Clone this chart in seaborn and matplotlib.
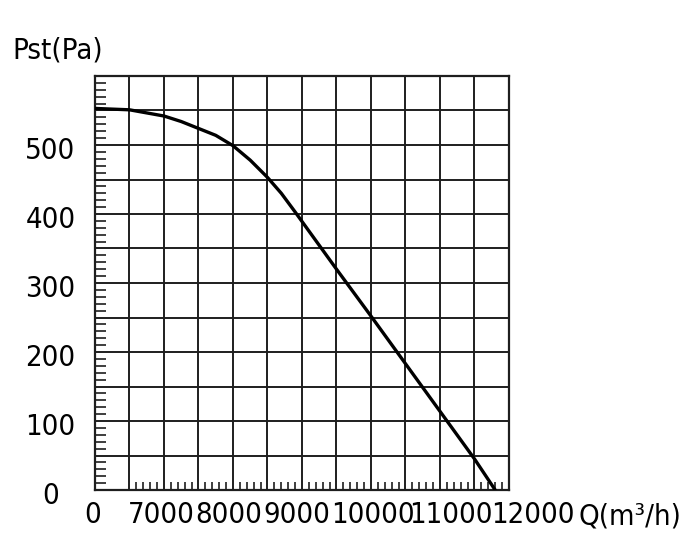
import numpy as np
import pandas as pd
import matplotlib
matplotlib.use('Agg')
import matplotlib.pyplot as plt
from matplotlib.transforms import ScaledTranslation
import seaborn as sns

# fan curve (air flow Q in m3/h, static pressure Pst in Pa)
flow = [0, 6500, 7000, 7250, 7500, 7750, 8000, 8250, 8500, 8700, 8900, 9500, 10000, 10500, 11000, 11500, 11800]
pressure = [553, 551, 542, 534, 524, 514, 499, 478, 453, 430, 403, 320, 252, 183, 114, 45, 0]

x_grid = [0, 6500, 7000, 7500, 8000, 8500, 9000, 9500, 10000, 10500, 11000, 11500, 12000]
x_labels = ['0', '', '7000', '', '8000', '', '9000', '', '10000', '', '11000', '', '12000']
# the labels in the picture sit a little off their grid lines (pixels, + is right)
x_label_shift = [-2, 0, -3, 0, -4, 0, -5, 0, 2, 0, 11, 0, 24]
y_grid = list(range(0, 650, 50))
y_labels = [str(v) if v % 100 == 0 and v < 600 else '' for v in y_grid]

BREAK = 6500  # the first cell squeezes 0..6500 into one 500-wide step


def squeeze(x):
    x = np.asarray(x, dtype=float)
    return np.where(x < BREAK, x * 500 / BREAK, x - (BREAK - 500))


def unsqueeze(u):
    u = np.asarray(u, dtype=float)
    return np.where(u < 500, u * BREAK / 500, u + (BREAK - 500))


sns.set_style('white')
plt.rcParams['font.family'] = ['DejaVu Sans']
plt.rcParams['font.stretch'] = 'condensed'
FS = 21

df = pd.DataFrame({'Q': flow, 'Pst': pressure})

fig = plt.figure(figsize=(7, 5.6), dpi=100)
ax = fig.add_axes([95 / 700, 70 / 560, 414 / 700, 414 / 560])

ax.set_xscale('function', functions=(squeeze, unsqueeze))
ax.set_xlim(0, 12000)
ax.set_ylim(0, 600)

sns.lineplot(data=df, x='Q', y='Pst', ax=ax, color='black', linewidth=2.4, zorder=5)

ax.set_xticks(x_grid)
ax.set_xticklabels(x_labels)
ax.set_yticks(y_grid)
ax.set_yticklabels(y_labels)
ax.set_xticks([v for v in range(6600, 12000, 100) if v % 500], minor=True)
ax.set_yticks([v for v in range(0, 600, 10) if v % 50], minor=True)

ax.grid(True, which='major', color='#1e1e1e', linewidth=1.4)
ax.tick_params(axis='x', which='major', bottom=True, length=0, pad=8, labelsize=FS, labelcolor='black')
ax.tick_params(axis='x', which='minor', bottom=True, top=False, direction='in', length=6, width=1.2, color='#1e1e1e')
ax.tick_params(axis='y', which='major', left=True, length=0, pad=32, labelsize=FS, labelcolor='black')
ax.tick_params(axis='y', which='minor', left=True, right=False, direction='in', length=8, width=1.2, color='#1e1e1e')
for lab in ax.get_yticklabels():
    lab.set_horizontalalignment('center')
    lab.set_transform(lab.get_transform() + ScaledTranslation(0, -3 / 100, fig.dpi_scale_trans))
for lab, dx in zip(ax.get_xticklabels(), x_label_shift):
    lab.set_transform(lab.get_transform() + ScaledTranslation(dx / 100, 0, fig.dpi_scale_trans))

for side in ax.spines.values():
    side.set_visible(True)
    side.set_color('#1e1e1e')
    side.set_linewidth(1.6)

ax.set_xlabel('')
ax.set_ylabel('')

fig.text(12 / 700, 1 - 51 / 560, 'Pst(Pa)', fontsize=FS, ha='left', va='center', color='black')
fig.text(578 / 700, 1 - 525 / 560, 'Q(m³/h)', fontsize=FS, ha='left', va='baseline', color='black')

fig.savefig('out.png', dpi=100)
